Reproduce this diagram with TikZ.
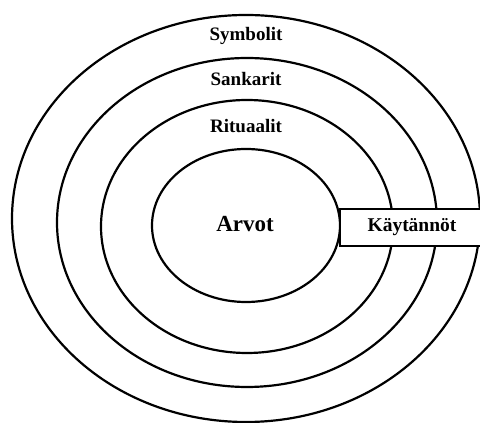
\documentclass[tikz,border=0pt]{standalone}
\usepackage{fontspec}
\setmainfont{Liberation Serif}
\usetikzlibrary{shapes.geometric}
\begin{document}
\begin{tikzpicture}[
        x=1pt, y=1pt,
        ring/.style={draw, ellipse, line width=2.2pt, inner sep=0pt},
        layer/.style={font=\fontsize{19}{22}\selectfont\bfseries, anchor=base},
        core/.style={font=\fontsize{23}{26}\selectfont\bfseries, anchor=base},
        practice/.style={draw, fill=white, line width=2.2pt, rectangle, inner sep=0pt,
            font=\fontsize{19.5}{22}\selectfont\bfseries},
    ]
    \useasboundingbox (0,0) rectangle (480,423);
    \clip (0,0) rectangle (480,423);
    % layers of the onion
    \node[ring, minimum width=468pt, minimum height=407pt](symbolit) at (246,204.5){};
    \node[ring, minimum width=380pt, minimum height=329pt](sankarit) at (247,200.5){};
    \node[ring, minimum width=292pt, minimum height=253pt](rituaalit) at (247,196.5){};
    \node[ring, minimum width=188pt, minimum height=153pt](arvot) at (246,197.5){};
    % labels
    \node[layer] at (246,382.5){Symbolit};
    \node[layer] at (246,337){Sankarit};
    \node[layer] at (246,290.3){Rituaalit};
    \node[core] at (245,191.3){Arvot};
    % practices cut through the outer layers
    \node[practice, minimum width=144pt, minimum height=37pt](kaytannot) at (412,195.5){Käytännöt};
\end{tikzpicture}
\end{document}
